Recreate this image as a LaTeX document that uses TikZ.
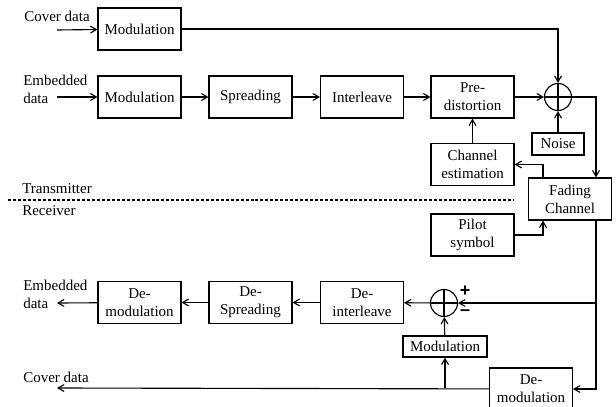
\documentclass[tikz,border=0pt]{standalone}
\usepackage{fontspec}
\setmainfont{Liberation Serif}
\newfontfamily\signfont{Liberation Sans}
\usetikzlibrary{arrows}

\begin{document}
\begin{tikzpicture}[x=0.6667pt,y=-0.6667pt]
		\tikzset{block/.style={shape = rectangle, draw, line width = 0.75pt, align = center, inner sep = 0pt, minimum width = 55.3pt, minimum height = 28pt}}
		\tikzset{adder/.style={shape = circle, draw, line width = 0.75pt, minimum size = 18pt, inner sep = 0pt}}
		\tikzset{edge/.style={->, > = angle 60, line width = 0.75pt}}
		\tikzset{txt/.style={inner sep = 0pt, align = left}}
		\tikzset{sign/.style={inner sep = 0pt, font = \signfont\bfseries\large}}
		\useasboundingbox (0,0) rectangle (616,406);
					%transmitter
					\node[txt] (covin) at (57,16) {Cover data};
					\coordinate (covinx) at (57,30);
					\node[block] (mod1) at (139.5,29) {Modulation};
					\node[txt, anchor = west] (embin) at (23,89) {Embedded\\data};
					\coordinate (embinx) at (57,97);
					\node[block] (mod2) at (139.5,97) {Modulation};
					\node[block] (spread) at (250.5,97) {Spreading};
					\node[block] (inter) at (362,97) {Interleave};
					\node[block] (pre) at (472.5,97) {Pre-\\distortion};
					\node[adder] (sum1) at (558,97) {};
					\node[block, minimum width = 34.7pt, minimum height = 14.7pt] (noise) at (558,144) {Noise};
					\node[block] (chest) at (472.5,164.5) {Channel\\estimation};
					\node[block] (fading) at (570,199) {Fading\\Channel};
					\node[block] (pilot) at (472.5,235) {Pilot\\symbol};
					\node[txt, anchor = west] (tx) at (22,189) {Transmitter};
					\node[txt, anchor = west] (rx) at (22,211) {Receiver};
					\coordinate (dashl) at (8,200);
					\coordinate (dashr) at (513,200);
					%receiver
					\node[adder] (sum2) at (444,303) {};
					\node[sign] (plus) at (465,291) {+};
					\node[sign] (minus) at (465,313) {–};
					\node[block] (deinter) at (362,302.5) {De-\\interleave};
					\node[block] (despread) at (250.5,302.5) {De-\\Spreading};
					\node[block] (demod1) at (139.5,302.5) {De-\\modulation};
					\node[txt, anchor = west] (embout) at (23,294) {Embedded\\data};
					\coordinate (emboutx) at (57,303);
					\node[block, minimum width = 56pt, minimum height = 14pt] (mod3) at (445,346.5) {Modulation};
					\node[block] (demod2) at (531,389) {De-\\modulation};
					\node[txt, anchor = west] (covout) at (23,377) {Cover data};
					\coordinate (covoutx) at (57,388);
					\coordinate (tap) at (445,388);
					\coordinate (split) at (596,303);
					%edges
					\draw[edge] (covinx) -- (mod1);
					\draw[edge] (mod1) -| (sum1);
					\draw[edge] (embinx) -- (mod2);
					\draw[edge] (mod2) -- (spread);
					\draw[edge] (spread) -- (inter);
					\draw[edge] (inter) -- (pre);
					\draw[edge] (pre) -- (sum1);
					\draw[edge] (noise) -- (sum1);
					\draw[line width = 0.75pt] (sum1.north) -- (sum1.south) (sum1.west) -- (sum1.east);
					\draw[edge] (sum1) -| (fading.north -| split);
					\draw[edge] (chest) -- (pre);
					\draw[edge] ([xshift=-18pt]fading.north) |- (chest);
					\draw[edge] (pilot) -| ([xshift=-18pt]fading.south);
					\draw[line width = 0.75pt, dash pattern = on 2pt off 1.3pt] (dashl) -- (dashr);
					\draw[line width = 0.75pt] (fading.south -| split) -- (split);
					\draw[edge] (split) -- (sum2);
					\draw[edge] (split) |- (demod2);
					\draw[line width = 0.75pt] (sum2.north) -- (sum2.south) (sum2.west) -- (sum2.east);
					\draw[edge] (sum2) -- (deinter);
					\draw[edge] (deinter) -- (despread);
					\draw[edge] (despread) -- (demod1);
					\draw[edge] (demod1) -- (emboutx);
					\draw[edge] (demod2) -- (covoutx);
					\draw[edge] (tap) -- (mod3);
					\draw[edge] (mod3) -- (sum2);
\end{tikzpicture}
\end{document}
